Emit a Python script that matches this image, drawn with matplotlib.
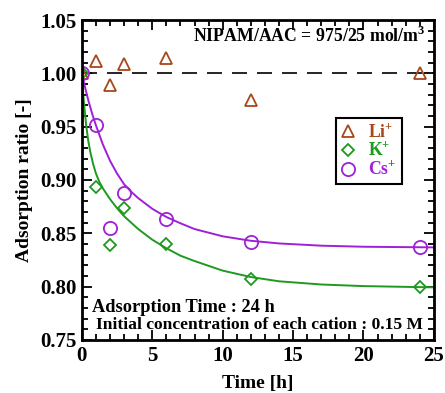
import matplotlib
matplotlib.use("Agg")
import matplotlib.pyplot as plt
from matplotlib.ticker import MultipleLocator, FormatStrFormatter

plt.rcParams['font.family'] = ['Liberation Serif', 'DejaVu Serif']
plt.rcParams['font.weight'] = 'bold'
plt.rcParams['mathtext.fontset'] = 'custom'
plt.rcParams['mathtext.rm'] = 'Liberation Serif:bold'
plt.rcParams['mathtext.bf'] = 'Liberation Serif:bold'

# measured points
t_li = [0, 1, 2, 3, 6, 12, 24]
y_li = [1.000, 1.012, 0.989, 1.009, 1.014, 0.975, 1.000]
t_k = [0, 1, 2, 3, 6, 12, 24]
y_k = [1.000, 0.893, 0.839, 0.874, 0.840, 0.807, 0.800]
t_cs = [0, 1, 2, 3, 6, 12, 24]
y_cs = [1.000, 0.952, 0.855, 0.888, 0.863, 0.842, 0.837]

# fitted curves
t_k_fit = [0, 0.1, 0.2, 0.3, 0.45, 0.6, 0.8, 1.0, 1.25, 1.5, 2.0, 2.5, 3.0,
           4.0, 5.0, 6.0, 7.0, 8.0, 10.0, 12.0, 14.0, 17.0, 20.0, 25.0]
y_k_fit = [1.000, 0.980, 0.965, 0.952, 0.937, 0.926, 0.915, 0.906, 0.898,
           0.892, 0.882, 0.8735, 0.866, 0.854, 0.844, 0.836, 0.829, 0.824,
           0.815, 0.809, 0.805, 0.802, 0.8005, 0.7993]
t_cs_fit = [0, 0.25, 0.5, 0.75, 1.0, 1.5, 2.0, 2.5, 3.0, 3.5, 4.0, 5.0, 6.0,
            7.0, 8.0, 10.0, 12.0, 14.0, 17.0, 20.0, 25.0]
y_cs_fit = [1.000, 0.9855, 0.9726, 0.9613, 0.9512, 0.933, 0.918, 0.906,
            0.896, 0.889, 0.883, 0.873, 0.8653, 0.8594, 0.854, 0.8472, 0.843,
            0.8405, 0.8384, 0.8374, 0.8368]

c_li = '#a8481a'
c_k = '#1f9a1f'
c_cs = '#a020d8'

fig = plt.figure(figsize=(4.45, 3.93), dpi=100)
ax = fig.add_axes([0.184, 0.135, 0.791, 0.814])

ax.axhline(1.0, color='black', lw=1.2, dashes=(9, 6), zorder=1)
ax.plot(t_k_fit, y_k_fit, color=c_k, lw=1.4)
ax.plot(t_cs_fit, y_cs_fit, color=c_cs, lw=1.4)

ax.plot(t_li, y_li, '^', mfc='none', mec=c_li, ms=8, mew=1.3, ls='none',
        label=r'Li$^{+}$')
ax.plot(t_k, y_k, 'D', mfc='none', mec=c_k, ms=6.5, mew=1.3, ls='none',
        label=r'K$^{+}$')
ax.plot(t_cs, y_cs, 'o', mfc='none', mec=c_cs, ms=9.5, mew=1.3, ls='none',
        label=r'Cs$^{+}$')

ax.set_xlim(0, 25)
ax.set_ylim(0.75, 1.05)
ax.xaxis.set_major_locator(MultipleLocator(5))
ax.xaxis.set_minor_locator(MultipleLocator(1))
ax.yaxis.set_major_locator(MultipleLocator(0.05))
ax.yaxis.set_minor_locator(MultipleLocator(0.01))
ax.yaxis.set_major_formatter(FormatStrFormatter('%.2f'))
ax.tick_params(which='both', direction='in', top=True, right=True,
               labelsize=15, width=1.3)
ax.tick_params(which='major', length=7, pad=4)
ax.tick_params(which='minor', length=4)
for s in ax.spines.values():
    s.set_linewidth(2)

ax.set_xlabel('Time [h]', fontsize=14, fontweight='bold', labelpad=7)
ax.set_ylabel('Adsorption ratio [-]', fontsize=14, fontweight='bold', labelpad=5)

ax.text(0.977, 0.95, r'NIPAM/AAC = 975/25 mol/m$^{3}$', transform=ax.transAxes,
        ha='right', va='center', fontsize=12.8, fontweight='bold')
ax.text(0.03, 0.1, 'Adsorption Time : 24 h', transform=ax.transAxes,
        ha='left', va='center', fontsize=13.2, fontweight='bold')
ax.text(0.04, 0.048, 'Initial concentration of each cation : 0.15 M',
        transform=ax.transAxes, ha='left', va='center', fontsize=12.6,
        fontweight='bold')

leg = ax.legend(loc='upper left', bbox_to_anchor=(0.722, 0.695), fontsize=12.8,
                frameon=True, fancybox=False, handlelength=0.8,
                handletextpad=0.7, borderpad=0.3, labelspacing=0.0,
                borderaxespad=0, framealpha=1)
leg.get_frame().set_edgecolor('black')
leg.get_frame().set_linewidth(1.5)
for txt, c in zip(leg.get_texts(), [c_li, c_k, c_cs]):
    txt.set_color(c)

fig.savefig('out.png', dpi=100)
